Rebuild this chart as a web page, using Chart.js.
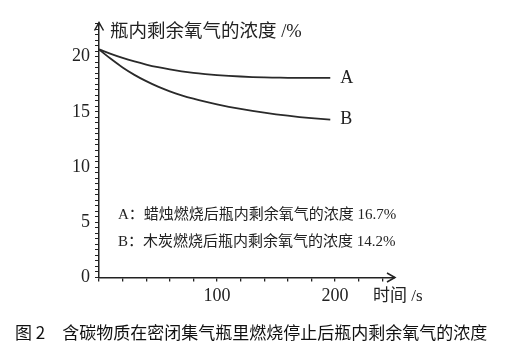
<!DOCTYPE html>
<html><head><meta charset="utf-8">
<script src="https://cdn.jsdelivr.net/npm/chart.js@4"></script>
<style>html,body{margin:0;padding:0;background:#fff;}canvas{display:block}</style>
</head><body>
<canvas id="c" width="519" height="354"></canvas>
<script>
const timeSeconds = [0,10,20,30,40,50,60,70,80,90,100,110,120,130,140,150,160,170,180,196];
const seriesA = [20.65,20.25,19.88,19.56,19.28,19.04,18.84,18.67,18.53,18.42,18.33,18.26,18.2,18.15,18.12,18.1,18.08,18.07,18.07,18.08];
const seriesB = [20.65,19.8,19.02,18.35,17.78,17.28,16.86,16.5,16.19,15.92,15.68,15.46,15.26,15.08,14.92,14.78,14.65,14.53,14.43,14.3];
const seriesNames = ['A','B'];
const yMajorLabels = [0,5,10,15,20];
const xMajorLabels = [100,200];
const yAxisTitle = '瓶内剩余氧气的浓度 /%';
const xAxisTitle = '时间 /s';
const notes = ['A：蜡烛燃烧后瓶内剩余氧气的浓度 16.7%','B：木炭燃烧后瓶内剩余氧气的浓度 14.2%'];
const caption = '图 2　含碳物质在密闭集气瓶里燃烧停止后瓶内剩余氧气的浓度';

const INK = '#222';
const SERIF = "'Liberation Serif','Noto Sans CJK SC',serif";
const SANS = "'Noto Sans CJK SC',sans-serif";

function isMajor(v, list){ return list.some(m => Math.abs(m - v) < 1e-6); }

const decor = {
  id: 'decor',
  afterDraw(chart){
    const ctx = chart.ctx, a = chart.chartArea;
    ctx.save();
    ctx.strokeStyle = INK; ctx.lineWidth = 1.5;
    // y arrow
    ctx.beginPath();
    ctx.moveTo(a.left - 4.5, a.top + 7); ctx.lineTo(a.left, a.top - 1); ctx.lineTo(a.left + 4.5, a.top + 7);
    ctx.stroke();
    ctx.beginPath(); ctx.moveTo(a.left, a.top + 2); ctx.lineTo(a.left, a.top - 1); ctx.stroke();
    // x arrow
    ctx.beginPath();
    ctx.moveTo(a.right - 7, a.bottom - 4.5); ctx.lineTo(a.right + 1, a.bottom); ctx.lineTo(a.right - 7, a.bottom + 4.5);
    ctx.stroke();
    ctx.beginPath(); ctx.moveTo(a.right - 2, a.bottom); ctx.lineTo(a.right + 1, a.bottom); ctx.stroke();

    ctx.fillStyle = INK;
    ctx.textBaseline = 'middle';
    // series end labels
    ctx.font = '18px ' + SERIF;
    ctx.textAlign = 'left';
    chart.data.datasets.forEach((ds, i) => {
      const pts = chart.getDatasetMeta(i).data;
      const p = pts[pts.length - 1];
      ctx.fillText(seriesNames[i], p.x + 10, p.y);
    });
    // axis titles
    ctx.font = '18.5px ' + SERIF;
    ctx.fillText(yAxisTitle, a.left + 11, a.top + 8.5);
    ctx.font = '17px ' + SERIF;
    ctx.fillText(xAxisTitle, a.right - 21, a.bottom + 19.5);
    // notes
    ctx.font = '15px ' + SERIF;
    ctx.fillText(notes[0], a.left + 19, 215);
    ctx.fillText(notes[1], a.left + 19, 242);
    // caption
    ctx.font = '17px ' + SANS;
    ctx.fillStyle = '#111';
    ctx.fillText(caption, 15, 333);
    ctx.restore();
  }
};

new Chart(document.getElementById('c'), {
  type: 'line',
  data: {
    datasets: [
      { label: seriesNames[0], data: timeSeconds.map((t, i) => ({x: t, y: seriesA[i]})) },
      { label: seriesNames[1], data: timeSeconds.map((t, i) => ({x: t, y: seriesB[i]})) }
    ]
  },
  options: {
    responsive: false,
    animation: false,
    devicePixelRatio: 1,
    layout: { padding: { top: 23.5, right: 125, left: 0, bottom: 0 } },
    elements: {
      line: { borderColor: '#2a2a2a', borderWidth: 1.8, cubicInterpolationMode: 'monotone', fill: false },
      point: { radius: 0 }
    },
    plugins: { legend: { display: false }, tooltip: { enabled: false } },
    scales: {
      x: {
        type: 'linear', min: 0, max: 250,
        afterFit(s){ s.height = 76.5; },
        border: { display: true, color: INK, width: 1.5 },
        grid: { drawOnChartArea: false, drawTicks: true, tickLength: 4, color: INK, lineWidth: 1.3 },
        ticks: {
          stepSize: 20, includeBounds: false, autoSkip: false, maxRotation: 0,
          padding: 4, color: INK, font: { family: SERIF, size: 18 },
          callback: v => isMajor(v, xMajorLabels) ? String(v) : ''
        }
      },
      y: {
        type: 'linear', min: 0, max: 23,
        afterFit(s){ s.width = 99; },
        border: { display: true, color: INK, width: 1.5 },
        grid: { drawOnChartArea: false, drawTicks: true, tickLength: 4, color: INK, lineWidth: 1 },
        ticks: {
          stepSize: 0.5, autoSkip: false, padding: 5, color: INK,
          font: { family: SERIF, size: 18 },
          callback: v => isMajor(v, yMajorLabels) ? String(v) : ''
        }
      }
    }
  },
  plugins: [decor]
});
</script>
</body></html>
